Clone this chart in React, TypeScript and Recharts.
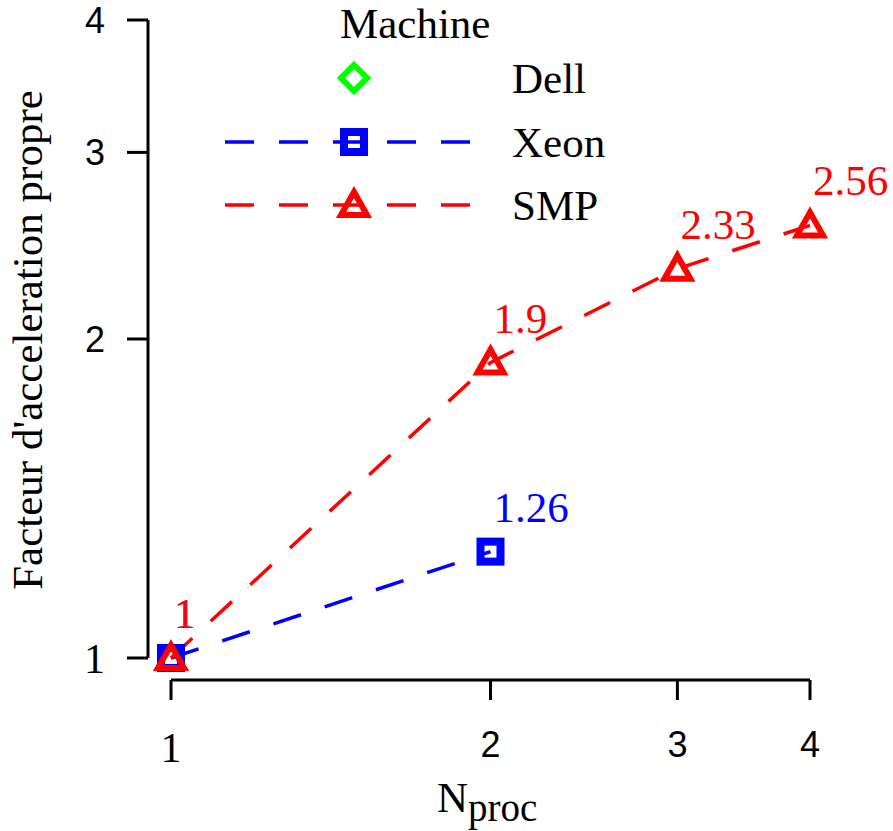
import React from 'react';
import { LineChart, Line, XAxis, YAxis, ReferenceLine, LabelList, Label } from 'recharts';

const nproc = [1, 2, 3, 4];
const smpSpeedup = [1, 1.9, 2.33, 2.56];
const xeonSpeedup = [1, 1.26];
const xTicks = [1, 2, 3, 4];
const yTicks = [1, 2, 3, 4];

const machines = ['Dell', 'Xeon', 'SMP'];
const machineColors = ['#00ff00', '#0000ff', '#ff0000'];
const machineShapes = ['diamond', 'square', 'triangle'];
const machineHasLine = [false, true, true];

const smpRows = smpSpeedup.map((v, i) => ({ n: nproc[i], speedup: v }));
const xeonRows = xeonSpeedup.map((v, i) => ({ n: nproc[i], speedup: v }));

// log axes start a bit below 1 so the detached R-style axes sit off the data
const X_LO = 0.9513;
const Y_LO = 0.9533;

const SERIF = '"Liberation Serif", "Times New Roman", serif';
const SANS = '"Liberation Sans", Arial, sans-serif';
const DASH = '29 25';

function Marker({ shape, cx, cy, color }: { shape: string; cx: number; cy: number; color: string }) {
  if (shape === 'square') {
    return <rect x={cx - 10} y={cy - 10} width={20} height={20} fill="none" stroke={color} strokeWidth={8} />;
  }
  if (shape === 'triangle') {
    return (
      <path
        d={`M${cx},${cy - 13}L${cx + 13},${cy + 10}L${cx - 13},${cy + 10}Z`}
        fill="none"
        stroke={color}
        strokeWidth={6}
        strokeLinejoin="miter"
      />
    );
  }
  return (
    <path
      d={`M${cx},${cy - 13}L${cx + 13},${cy}L${cx},${cy + 13}L${cx - 13},${cy}Z`}
      fill="none"
      stroke={color}
      strokeWidth={6}
    />
  );
}

const dotFor = (shape: string, color: string) => (props: any) => {
  if (props.cx == null || props.cy == null) return <g key={props.index} />;
  return (
    <g key={`dot-${shape}-${props.index}`}>
      <Marker shape={shape} cx={props.cx} cy={props.cy} color={color} />
    </g>
  );
};

const valueLabel = (color: string) => (props: any) => {
  const { value } = props;
  if (value == null) return null;
  const x = props.x ?? props.viewBox?.x;
  const y = props.y ?? props.viewBox?.y;
  return (
    <text x={x + 3} y={y - 30} fill={color} fontFamily={SERIF} fontSize={43}>
      {value}
    </text>
  );
};

function YTick({ x, y, payload }: any) {
  const one = payload.value === 1;
  return (
    <text
      x={x}
      y={y + (one ? 15 : 13)}
      textAnchor="end"
      fontFamily={one ? SERIF : SANS}
      fontSize={one ? 42 : 36}
      fill="#000"
    >
      {payload.value}
    </text>
  );
}

function XTick({ x, y, payload }: any) {
  const one = payload.value === 1;
  return (
    <text
      x={x}
      y={y + (one ? 62 : 57)}
      textAnchor="middle"
      fontFamily={one ? SERIF : SANS}
      fontSize={one ? 42 : 36}
      fill="#000"
    >
      {payload.value}
    </text>
  );
}

function MachineLegend() {
  const rowY = [78, 142, 205];
  return (
    <svg width={893} height={240} style={{ position: 'absolute', left: 0, top: 0, pointerEvents: 'none' }}>
      <text x={340} y={38} fontFamily={SERIF} fontSize={43} fill="#000">
        Machine
      </text>
      {machines.map((name, i) => (
        <g key={name}>
          {machineHasLine[i] && (
            <line
              x1={225}
              x2={472}
              y1={rowY[i]}
              y2={rowY[i]}
              stroke={machineColors[i]}
              strokeWidth={3.5}
              strokeDasharray={DASH}
            />
          )}
          <Marker shape={machineShapes[i]} cx={354} cy={rowY[i]} color={machineColors[i]} />
          <text x={512} y={rowY[i] + 15} fontFamily={SERIF} fontSize={43} fill="#000">
            {name}
          </text>
        </g>
      ))}
    </svg>
  );
}

export default function App() {
  return (
    <div style={{ position: 'absolute', left: 0, top: 0, width: 893, height: 831, background: '#fff' }}>
      <LineChart width={893} height={831} margin={{ top: 20, right: 83, bottom: 81, left: 78 }}>
        <XAxis
          dataKey="n"
          type="number"
          scale="log"
          domain={[X_LO, 4]}
          ticks={xTicks}
          interval={0}
          height={70}
          axisLine={false}
          tickLine={{ stroke: '#000', strokeWidth: 3 }}
          tickSize={20}
          tickMargin={0}
          tick={<XTick />}
        >
          <Label
            content={() => (
              <text fontFamily={SERIF} fill="#000">
                <tspan x={437} y={812} fontSize={43}>N</tspan>
                <tspan x={468} y={821} fontSize={39}>proc</tspan>
              </text>
            )}
          />
        </XAxis>
        <YAxis
          type="number"
          scale="log"
          domain={[Y_LO, 4]}
          ticks={yTicks}
          interval={0}
          width={70}
          axisLine={false}
          tickLine={{ stroke: '#000', strokeWidth: 3 }}
          tickSize={21}
          tickMargin={22}
          tick={<YTick />}
        >
          <Label
            content={() => (
              <text
                x={42}
                y={340}
                transform="rotate(-90, 42, 340)"
                textAnchor="middle"
                fontFamily={SERIF}
                fontSize={43}
                fill="#000"
              >
                Facteur d'acceleration propre
              </text>
            )}
          />
        </YAxis>
        <ReferenceLine
          segment={[{ x: X_LO, y: 1 }, { x: X_LO, y: 4 }]}
          stroke="#000"
          strokeWidth={3}
          ifOverflow="visible"
        />
        <ReferenceLine
          segment={[{ x: 1, y: Y_LO }, { x: 4, y: Y_LO }]}
          stroke="#000"
          strokeWidth={3}
          ifOverflow="visible"
        />
        <Line
          data={xeonRows}
          dataKey="speedup"
          stroke="#0000ff"
          strokeWidth={3.5}
          strokeDasharray={DASH}
          type="linear"
          dot={dotFor('square', '#0000ff')}
          activeDot={false}
          isAnimationActive={false}
        >
          <LabelList dataKey="speedup" content={valueLabel('#0000ff')} />
        </Line>
        <Line
          data={smpRows}
          dataKey="speedup"
          stroke="#ff0000"
          strokeWidth={3.5}
          strokeDasharray={DASH}
          type="linear"
          dot={dotFor('triangle', '#ff0000')}
          activeDot={false}
          isAnimationActive={false}
        >
          <LabelList dataKey="speedup" content={valueLabel('#ff0000')} />
        </Line>
      </LineChart>
      <MachineLegend />
    </div>
  );
}
